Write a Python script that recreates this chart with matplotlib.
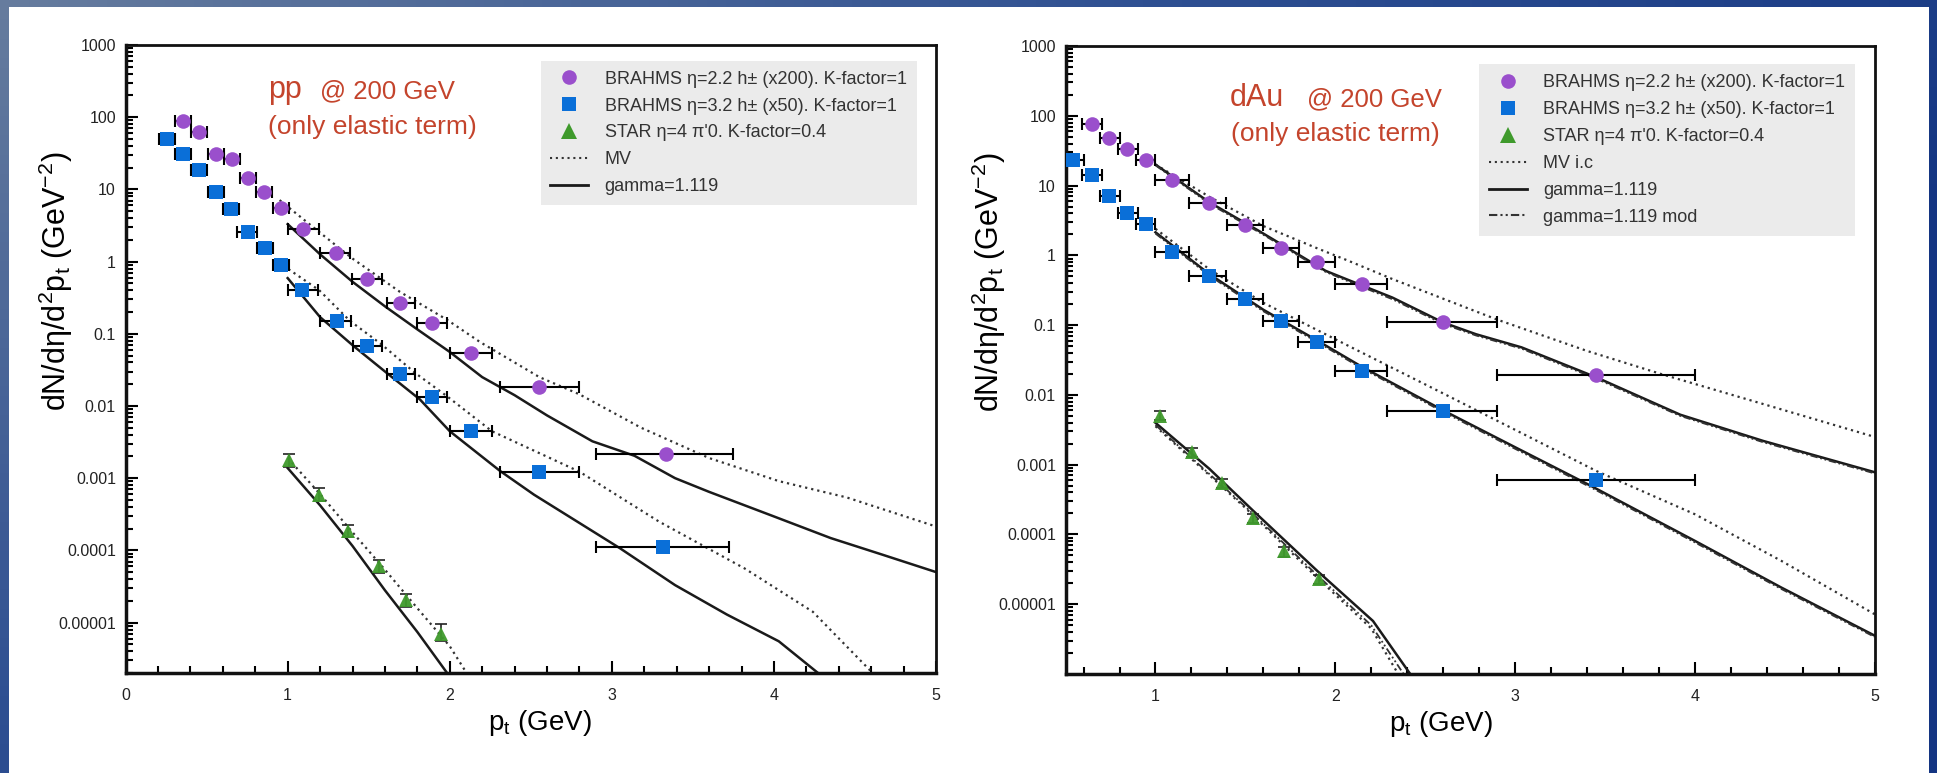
import numpy as np
import matplotlib.pyplot as plt
from matplotlib.lines import Line2D
from matplotlib.patches import Rectangle
from matplotlib.colors import LinearSegmentedColormap
from matplotlib.ticker import FixedLocator, MultipleLocator, LogLocator, NullFormatter

plt.rcParams['font.family'] = ['Liberation Sans', 'DejaVu Sans']
plt.rcParams['mathtext.fontset'] = 'custom'
plt.rcParams['mathtext.rm'] = 'Liberation Sans'
plt.rcParams['mathtext.it'] = 'Liberation Sans:italic'

# ---- pp @ 200 GeV ----
pp_h22_x = [0.356, 0.453, 0.556, 0.658, 0.753, 0.854, 0.957, 1.092, 1.298, 1.491, 1.693, 1.892, 2.131, 2.553, 3.333]
pp_h22_y = [88, 62.5, 31.3, 26, 14.5, 9.2, 5.6, 2.85, 1.33, 0.575, 0.27, 0.139, 0.055, 0.0186, 0.00213]
pp_h22_xlo = [0.306, 0.403, 0.506, 0.608, 0.703, 0.804, 0.907, 1.0, 1.2, 1.395, 1.61, 1.80, 2.0, 2.31, 2.90]
pp_h22_xhi = [0.406, 0.503, 0.606, 0.708, 0.803, 0.904, 1.007, 1.195, 1.385, 1.58, 1.785, 1.98, 2.26, 2.80, 3.75]

pp_h32_x = [0.257, 0.356, 0.453, 0.556, 0.65, 0.753, 0.86, 0.959, 1.086, 1.302, 1.491, 1.693, 1.888, 2.131, 2.553, 3.318]
pp_h32_y = [49.4, 31.3, 18.8, 9.2, 5.4, 2.55, 1.53, 0.91, 0.40, 0.151, 0.068, 0.028, 0.0133, 0.0045, 0.00123, 0.000110]
pp_h32_xlo = [0.207, 0.306, 0.403, 0.506, 0.60, 0.69, 0.81, 0.909, 1.0, 1.2, 1.40, 1.61, 1.80, 2.0, 2.31, 2.90]
pp_h32_xhi = [0.307, 0.406, 0.503, 0.606, 0.70, 0.81, 0.91, 1.009, 1.19, 1.39, 1.585, 1.785, 1.98, 2.26, 2.80, 3.725]

pp_pi0_x = [1.007, 1.194, 1.374, 1.561, 1.729, 1.943]
pp_pi0_y = [0.00176, 0.00059, 0.000184, 6.0e-5, 2.03e-5, 7.0e-6]
pp_pi0_ylo = [0.00145, 0.00049, 0.000152, 4.9e-5, 1.65e-5, 5.6e-6]
pp_pi0_yhi = [0.00215, 0.00072, 0.000225, 7.4e-5, 2.5e-5, 9.5e-6]

pp_gamma_h22_x = [1.0, 1.2, 1.4, 1.6, 1.8, 2.0, 2.2, 2.4, 2.6, 2.88, 3.14, 3.39, 3.6, 4.0, 4.35, 4.67, 5.0]
pp_gamma_h22_y = [3.3, 1.26, 0.525, 0.24, 0.115, 0.056, 0.0251, 0.0141, 0.0074, 0.00324, 0.00204, 0.0010,
                  0.000646, 0.000295, 0.000148, 8.7e-5, 5.0e-5]
pp_mv_h22_x = [0.95, 1.2, 1.4, 1.693, 1.98, 2.19, 2.553, 2.80, 3.18, 3.60, 4.03, 4.45, 5.0]
pp_mv_h22_y = [7.1, 2.51, 1.10, 0.38, 0.158, 0.076, 0.0251, 0.0145, 0.0050, 0.0019, 0.00091, 0.00054, 0.000214]

pp_gamma_h32_x = [1.0, 1.2, 1.405, 1.61, 1.816, 2.0, 2.31, 2.52, 3.05, 3.39, 3.71, 4.03, 4.3]
pp_gamma_h32_y = [0.59, 0.17, 0.068, 0.0288, 0.0123, 0.00447, 0.00126, 0.00059, 0.000107, 3.3e-5, 1.29e-5,
                  5.5e-6, 1.78e-6]
pp_mv_h32_x = [0.973, 1.195, 1.384, 1.58, 1.785, 1.98, 2.26, 2.80, 3.29, 3.82, 4.24, 4.60, 4.65]
pp_mv_h32_y = [0.88, 0.40, 0.151, 0.071, 0.0288, 0.0138, 0.00447, 0.00123, 0.000251, 5.6e-5, 1.41e-5,
               2.1e-6, 1.6e-6]

pp_gamma_pi0_x = [1.0, 1.2, 1.4, 1.6, 1.8, 2.0]
pp_gamma_pi0_y = [1.38e-3, 4.2e-4, 1.15e-4, 2.8e-5, 7.4e-6, 1.78e-6]
pp_mv_pi0_x = [1.0, 1.2, 1.4, 1.6, 1.8, 2.0, 2.11]
pp_mv_pi0_y = [1.9e-3, 6.0e-4, 1.78e-4, 5.4e-5, 1.58e-5, 4.7e-6, 1.9e-6]

# ---- dAu @ 200 GeV ----
dau_h22_x = [0.645, 0.744, 0.844, 0.946, 1.091, 1.296, 1.497, 1.696, 1.896, 2.147, 2.602, 3.453]
dau_h22_y = [75.5, 47.6, 33, 23, 12, 5.7, 2.7, 1.29, 0.79, 0.39, 0.109, 0.019]
dau_h22_xlo = [0.59, 0.69, 0.79, 0.89, 1.0, 1.185, 1.4, 1.6, 1.79, 2.0, 2.29, 2.90]
dau_h22_xhi = [0.70, 0.80, 0.90, 1.0, 1.185, 1.39, 1.6, 1.8, 2.0, 2.29, 2.90, 4.0]

dau_h32_x = [0.543, 0.645, 0.744, 0.844, 0.946, 1.091, 1.296, 1.497, 1.696, 1.896, 2.147, 2.599, 3.453]
dau_h32_y = [23, 14.2, 7.1, 4.1, 2.8, 1.13, 0.51, 0.24, 0.115, 0.058, 0.022, 0.0059, 0.0006]
dau_h32_xlo = [0.49, 0.59, 0.69, 0.79, 0.89, 1.0, 1.185, 1.4, 1.6, 1.79, 2.0, 2.29, 2.90]
dau_h32_xhi = [0.60, 0.70, 0.80, 0.90, 1.0, 1.185, 1.39, 1.6, 1.8, 2.0, 2.29, 2.90, 4.0]

dau_pi0_x = [1.027, 1.203, 1.371, 1.543, 1.715, 1.911]
dau_pi0_y = [0.005, 0.0015, 0.00054, 0.00017, 5.7e-5, 2.3e-5]
dau_pi0_ylo = [0.0043, 0.00128, 0.00046, 0.000145, 4.8e-5, 1.95e-5]
dau_pi0_yhi = [0.0058, 0.00173, 0.00062, 0.000195, 6.6e-5, 2.65e-5]

dau_gamma_h22_x = [1.0, 1.3, 1.575, 1.946, 2.076, 2.318, 2.6, 2.783, 3.036, 3.453, 3.919, 4.38, 5.0]
dau_gamma_h22_y = [20, 5.75, 2.24, 0.60, 0.44, 0.248, 0.109, 0.074, 0.048, 0.0178, 0.0052, 0.00219, 0.00078]
dau_mod_h22_y = [19.5, 5.5, 2.15, 0.58, 0.42, 0.235, 0.104, 0.071, 0.046, 0.0170, 0.0050, 0.0021, 0.00075]
dau_mv_h22_x = [1.0, 1.3, 1.6, 1.9, 2.076, 2.318, 2.9, 3.4, 3.81, 4.38, 5.0]
dau_mv_h22_y = [20, 6.9, 2.63, 1.26, 0.83, 0.457, 0.120, 0.0427, 0.020, 0.0074, 0.0025]

dau_gamma_h32_x = [1.0, 1.3, 1.6, 1.9, 2.15, 2.6, 3.0, 3.42, 4.0, 4.48, 5.0]
dau_gamma_h32_y = [2.14, 0.537, 0.166, 0.060, 0.0251, 0.0060, 0.00178, 0.0005, 8.1e-5, 1.74e-5, 3.55e-6]
dau_mod_h32_y = [2.05, 0.51, 0.158, 0.057, 0.0239, 0.0057, 0.00169, 0.000475, 7.7e-5, 1.66e-5, 3.4e-6]
dau_mv_h32_x = [1.0, 1.3, 1.6, 2.076, 2.6, 2.9, 3.453, 4.0, 4.48, 5.0]
dau_mv_h32_y = [2.4, 0.63, 0.209, 0.050, 0.0105, 0.00427, 0.00081, 0.000195, 4.2e-5, 7.2e-6]

dau_gamma_pi0_x = [1.0, 1.3, 1.543, 1.9, 2.21, 2.417]
dau_gamma_pi0_y = [0.00398, 0.00087, 0.000219, 3.0e-5, 5.75e-6, 1.0e-6]
dau_mv_pi0_x = [1.0, 1.5, 1.9, 2.2, 2.35]
dau_mv_pi0_y = [0.00355, 0.00024, 2.4e-5, 4.5e-6, 1.0e-6]
dau_mod_pi0_x = [1.0, 1.5, 1.9, 2.2, 2.38]
dau_mod_pi0_y = [0.0037, 0.00025, 2.6e-5, 5.0e-6, 1.0e-6]

ytick_vals = [1e-5, 1e-4, 1e-3, 1e-2, 1e-1, 1, 10, 100, 1000]
ytick_labels = ['0.00001', '0.0001', '0.001', '0.01', '0.1', '1', '10', '100', '1000']

PURPLE = '#9a4fcc'
BLUE = '#0a6fd8'
GREEN = '#3f9a2c'
RED = '#c4442c'
DOTTED = (0, (1, 1.8))
DASHDOT = (0, (4, 1.5, 1, 1.5, 1, 1.5))

W, H = 1937, 773
fig = plt.figure(figsize=(W / 100, H / 100), dpi=100)

# slide-style frame behind the two panels
bg = fig.add_axes([0, 0, 1, 1], zorder=-10)
bg.set_xlim(0, W)
bg.set_ylim(H, 0)
bg.axis('off')
yy, xx = np.mgrid[0:1:80j, 0:1:200j]
shade = np.clip(0.85 * xx + 0.55 * yy, 0, 1)
frame_cmap = LinearSegmentedColormap.from_list('frame', ['#667c9e', '#2f5092', '#143582'])
bg.imshow(shade, cmap=frame_cmap, extent=(0, W, H, 0), aspect='auto')
bg.add_patch(Rectangle((9, 7), 1920, 770, facecolor='white', edgecolor='none'))

ax1 = fig.add_axes([125.6 / W, 100 / H, 810.4 / W, 628 / H])
ax2 = fig.add_axes([1065.6 / W, 99 / H, 809 / W, 628 / H])


def style_axes(ax, xlim, ylim, xticks):
    ax.set_yscale('log')
    ax.set_xlim(*xlim)
    ax.set_ylim(*ylim)
    ax.xaxis.set_major_locator(FixedLocator(xticks))
    ax.xaxis.set_minor_locator(MultipleLocator(0.2))
    ax.set_yticks(ytick_vals)
    ax.set_yticklabels(ytick_labels)
    ax.yaxis.set_minor_locator(LogLocator(base=10, subs=np.arange(2, 10), numticks=30))
    ax.yaxis.set_minor_formatter(NullFormatter())
    ax.tick_params(which='both', direction='in', top=False, right=False, width=1.5,
                   labelsize=11.5, labelcolor='#222')
    ax.tick_params(which='major', length=8.5)
    ax.tick_params(which='minor', length=5)
    ax.tick_params(axis='y', pad=7)
    ax.tick_params(axis='x', pad=11)
    for side in ['left', 'bottom']:
        ax.spines[side].set_linewidth(2.5)
    for side in ['top', 'right']:
        ax.spines[side].set_linewidth(2)
    for sp in ax.spines.values():
        sp.set_color('#111')
    ax.set_xlabel('p$_{\\rm t}$ (GeV)', fontsize=20)
    ax.set_ylabel('dN/dη/d$^{2}$p$_{\\rm t}$ (GeV$^{-2}$)', fontsize=22)


def draw_points(ax, x, y, xlo, xhi, marker, color, ms):
    x = np.array(x)
    xerr = [x - np.array(xlo), np.array(xhi) - x]
    ax.errorbar(x, y, xerr=xerr, fmt='none', ecolor='black', elinewidth=1.5,
                capsize=4.5, capthick=1.5, zorder=3)
    ax.plot(x, y, ls='none', marker=marker, color=color, ms=ms, mew=0, zorder=4)


def draw_triangles(ax, x, y, ylo, yhi):
    y = np.array(y)
    yerr = [y - np.array(ylo), np.array(yhi) - y]
    ax.errorbar(x, y, yerr=yerr, fmt='none', ecolor='#222', elinewidth=1.2,
                capsize=4, capthick=1.2, zorder=3)
    ax.plot(x, y, ls='none', marker='^', color=GREEN, ms=10, mew=0, zorder=4, alpha=0.95)


# ---- left panel: pp ----
style_axes(ax1, (0, 5), (2e-6, 1000), [0, 1, 2, 3, 4, 5])
ax1.plot(pp_mv_h22_x, pp_mv_h22_y, color='#333', lw=1.6, ls=DOTTED, zorder=2)
ax1.plot(pp_gamma_h22_x, pp_gamma_h22_y, color='#1a1a1a', lw=1.8, zorder=2)
ax1.plot(pp_mv_h32_x, pp_mv_h32_y, color='#333', lw=1.6, ls=DOTTED, zorder=2)
ax1.plot(pp_gamma_h32_x, pp_gamma_h32_y, color='#1a1a1a', lw=1.8, zorder=2)
ax1.plot(pp_mv_pi0_x, pp_mv_pi0_y, color='#333', lw=1.6, ls=DOTTED, zorder=2)
ax1.plot(pp_gamma_pi0_x, pp_gamma_pi0_y, color='#1a1a1a', lw=1.8, zorder=2)
draw_points(ax1, pp_h22_x, pp_h22_y, pp_h22_xlo, pp_h22_xhi, 'o', PURPLE, 10.5)
draw_points(ax1, pp_h32_x, pp_h32_y, pp_h32_xlo, pp_h32_xhi, 's', BLUE, 10)
draw_triangles(ax1, pp_pi0_x, pp_pi0_y, pp_pi0_ylo, pp_pi0_yhi)

ax1.text(0.176, 0.915, 'pp', transform=ax1.transAxes, fontsize=22, color=RED)
ax1.text(0.240, 0.915, '@ 200 GeV', transform=ax1.transAxes, fontsize=18.5, color=RED)
ax1.text(0.176, 0.859, '(only elastic term)', transform=ax1.transAxes, fontsize=19, color=RED)
ax1.xaxis.set_label_coords(0.511, -0.056)
ax1.yaxis.set_label_coords(-0.0625, 0.623)

# ---- right panel: dAu ----
style_axes(ax2, (0.5, 5), (1e-6, 1000), [1, 2, 3, 4, 5])
ax2.plot(dau_mv_h22_x, dau_mv_h22_y, color='#333', lw=1.6, ls=DOTTED, zorder=2)
ax2.plot(dau_gamma_h22_x, dau_gamma_h22_y, color='#1a1a1a', lw=1.8, zorder=2)
ax2.plot(dau_gamma_h22_x, dau_mod_h22_y, color='#333', lw=1.3, ls=DASHDOT, zorder=2)
ax2.plot(dau_mv_h32_x, dau_mv_h32_y, color='#333', lw=1.6, ls=DOTTED, zorder=2)
ax2.plot(dau_gamma_h32_x, dau_gamma_h32_y, color='#1a1a1a', lw=1.8, zorder=2)
ax2.plot(dau_gamma_h32_x, dau_mod_h32_y, color='#333', lw=1.3, ls=DASHDOT, zorder=2)
ax2.plot(dau_mv_pi0_x, dau_mv_pi0_y, color='#333', lw=1.6, ls=DOTTED, zorder=2)
ax2.plot(dau_gamma_pi0_x, dau_gamma_pi0_y, color='#1a1a1a', lw=1.8, zorder=2)
ax2.plot(dau_mod_pi0_x, dau_mod_pi0_y, color='#333', lw=1.3, ls=DASHDOT, zorder=2)
draw_points(ax2, dau_h22_x, dau_h22_y, dau_h22_xlo, dau_h22_xhi, 'o', PURPLE, 10.5)
draw_points(ax2, dau_h32_x, dau_h32_y, dau_h32_xlo, dau_h32_xhi, 's', BLUE, 10)
draw_triangles(ax2, dau_pi0_x, dau_pi0_y, dau_pi0_ylo, dau_pi0_yhi)

ax2.text(0.203, 0.904, 'dAu', transform=ax2.transAxes, fontsize=22, color=RED)
ax2.text(0.298, 0.904, '@ 200 GeV', transform=ax2.transAxes, fontsize=18.5, color=RED)
ax2.text(0.205, 0.849, '(only elastic term)', transform=ax2.transAxes, fontsize=19, color=RED)
ax2.xaxis.set_label_coords(0.464, -0.056)
ax2.yaxis.set_label_coords(-0.071, 0.623)

# legends
h_h22 = Line2D([], [], ls='none', marker='o', color=PURPLE, ms=10.5, mew=0)
h_h32 = Line2D([], [], ls='none', marker='s', color=BLUE, ms=10, mew=0)
h_pi0 = Line2D([], [], ls='none', marker='^', color=GREEN, ms=11, mew=0)
h_mv = Line2D([], [], color='#333', lw=1.5, ls=DOTTED)
h_gamma = Line2D([], [], color='#1a1a1a', lw=2)
h_mod = Line2D([], [], color='#333', lw=1.5, ls=DASHDOT)

lab_h22 = 'BRAHMS η=2.2 h± (x200). K-factor=1'
lab_h32 = 'BRAHMS η=3.2 h± (x50). K-factor=1'
lab_pi0 = "STAR η=4 π'0. K-factor=0.4"

leg_kw = dict(loc='upper left', fontsize=13, frameon=True, facecolor='#ebebeb', edgecolor='none',
              framealpha=1, fancybox=False, borderaxespad=0, borderpad=0.55, labelspacing=0.55,
              handlelength=2.1, handletextpad=0.9, labelcolor='#333')
ax1.legend([h_h22, h_h32, h_pi0, h_mv, h_gamma], [lab_h22, lab_h32, lab_pi0, 'MV', 'gamma=1.119'],
           bbox_to_anchor=(0.512, 0.975), **leg_kw)
ax2.legend([h_h22, h_h32, h_pi0, h_mv, h_gamma, h_mod],
           [lab_h22, lab_h32, lab_pi0, 'MV i.c', 'gamma=1.119', 'gamma=1.119 mod'],
           bbox_to_anchor=(0.511, 0.971), **leg_kw)

fig.savefig('out.png', dpi=100)
